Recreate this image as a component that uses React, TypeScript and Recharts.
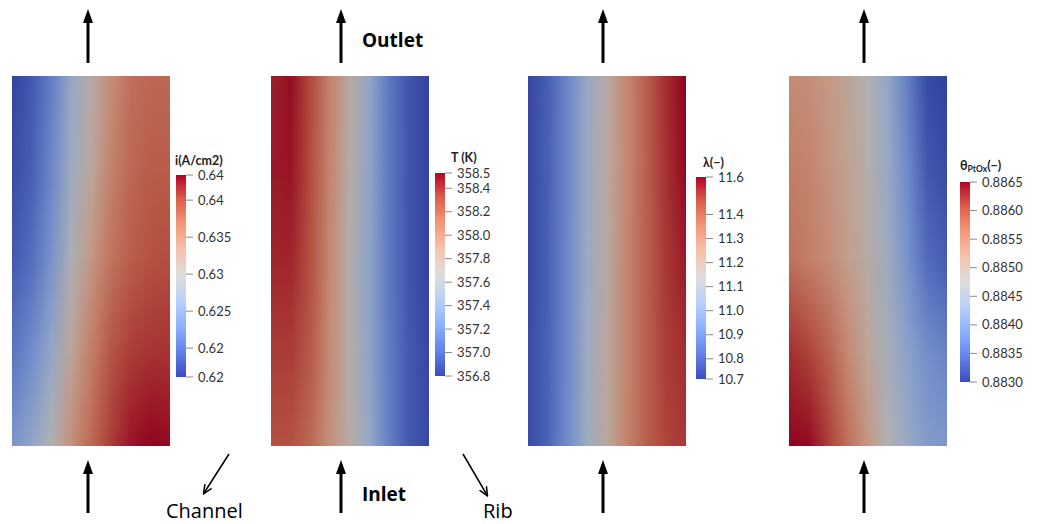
import React from 'react';
import { BarChart, Bar, XAxis, YAxis } from 'recharts';

// Cool-to-warm colour map, sampled every 1/8
const COOLWARM: number[][] = [
  [59, 76, 192], [98, 130, 234], [141, 176, 254], [184, 208, 249], [221, 221, 221],
  [245, 196, 173], [244, 154, 123], [222, 96, 77], [180, 4, 38],
];

// current density i (A/cm2): rows top -> bottom, columns left -> right
const CURRENT_DOMAIN = [0.6161, 0.6434];
const CURRENT_TICKS = [0.6434, 0.64, 0.635, 0.63, 0.625, 0.62, 0.6161];
const CURRENT_LABELS = ['0.64', '0.64', '0.635', '0.63', '0.625', '0.62', '0.62'];
const CURRENT_ROWS = [
  [0.6166, 0.6183, 0.6216, 0.6265, 0.6306, 0.6347, 0.6374, 0.6379, 0.6379],
  [0.6172, 0.6188, 0.6224, 0.6276, 0.6314, 0.6358, 0.6379, 0.6388, 0.6388],
  [0.6183, 0.6202, 0.6237, 0.6292, 0.6338, 0.6371, 0.6388, 0.6396, 0.6399],
  [0.6207, 0.6229, 0.6265, 0.6319, 0.6363, 0.6393, 0.6407, 0.6412, 0.6412],
  [0.6240, 0.6262, 0.6298, 0.6347, 0.6379, 0.6407, 0.6426, 0.6434, 0.6431],
];

// temperature T (K)
const TEMP_DOMAIN = [356.8, 358.53];
const TEMP_TICKS = [358.53, 358.4, 358.2, 358.0, 357.8, 357.6, 357.4, 357.2, 357.0, 356.8];
const TEMP_LABELS = ['358.5', '358.4', '358.2', '358.0', '357.8', '357.6', '357.4', '357.2', '357.0', '356.8'];
const TEMP_ROWS = [
  [358.44, 358.50, 358.32, 358.05, 357.75, 357.44, 357.11, 356.92, 356.83],
  [358.46, 358.48, 358.31, 358.03, 357.72, 357.42, 357.11, 356.92, 356.83],
  [358.43, 358.43, 358.29, 358.01, 357.68, 357.41, 357.11, 356.92, 356.83],
  [358.36, 358.36, 358.25, 357.99, 357.70, 357.42, 357.13, 356.94, 356.85],
  [358.29, 358.29, 358.18, 357.96, 357.72, 357.46, 357.15, 356.94, 356.85],
];

// membrane water content lambda (-)
const LAMBDA_DOMAIN = [10.716, 11.556];
const LAMBDA_TICKS = [11.556, 11.4, 11.3, 11.2, 11.1, 11.0, 10.9, 10.8, 10.716];
const LAMBDA_LABELS = ['11.6', '11.4', '11.3', '11.2', '11.1', '11.0', '10.9', '10.8', '10.7'];
const LAMBDA_ROWS = [
  [10.741, 10.800, 10.909, 11.052, 11.170, 11.304, 11.405, 11.497, 11.556],
  [10.741, 10.800, 10.909, 11.060, 11.178, 11.304, 11.405, 11.489, 11.548],
  [10.741, 10.800, 10.918, 11.060, 11.178, 11.312, 11.405, 11.480, 11.522],
  [10.750, 10.808, 10.918, 11.069, 11.186, 11.312, 11.405, 11.472, 11.497],
  [10.750, 10.808, 10.926, 11.069, 11.186, 11.321, 11.405, 11.464, 11.480],
];

// platinum oxide coverage theta_PtOx (-)
const THETA_DOMAIN = [0.883, 0.8865];
const THETA_TICKS = [0.8865, 0.886, 0.8855, 0.885, 0.8845, 0.884, 0.8835, 0.883];
const THETA_LABELS = ['0.8865', '0.8860', '0.8855', '0.8850', '0.8845', '0.8840', '0.8835', '0.8830'];
const THETA_ROWS = [
  [0.88542, 0.88538, 0.88524, 0.88503, 0.88475, 0.88433, 0.88370, 0.88314, 0.88304],
  [0.88559, 0.88552, 0.88531, 0.88510, 0.88482, 0.88440, 0.88384, 0.88328, 0.88314],
  [0.88573, 0.88559, 0.88542, 0.88517, 0.88489, 0.88447, 0.88398, 0.88349, 0.88332],
  [0.88626, 0.88612, 0.88587, 0.88545, 0.88500, 0.88461, 0.88423, 0.88391, 0.88377],
  [0.88650, 0.88647, 0.88615, 0.88573, 0.88528, 0.88475, 0.88440, 0.88412, 0.88405],
];

const PANEL_W = 158;
const PANEL_H = 370;
const PANEL_TOP = 76;
const SHADE = 0.8; // the 3D render is lit, so the fields look darker than the colour bars

function cmap(t: number, k = 1) {
  const c = Math.max(0, Math.min(1, t)) * (COOLWARM.length - 1);
  const i = Math.min(Math.floor(c), COOLWARM.length - 2);
  const f = c - i;
  const a = COOLWARM[i];
  const b = COOLWARM[i + 1];
  const ch = (j: number) => Math.round((a[j] + (b[j] - a[j]) * f) * k);
  return `rgb(${ch(0)},${ch(1)},${ch(2)})`;
}

function Field({ id, rows, domain, left }: { id: string; rows: number[][]; domain: number[]; left: number }) {
  const segs = rows.slice(1).map((_, i) => ({ seg: i, span: 1 }));
  const norm = (v: number) => (v - domain[0]) / (domain[1] - domain[0]);
  return (
    <div style={{ position: 'absolute', left, top: PANEL_TOP }}>
      <BarChart width={PANEL_W} height={PANEL_H} data={segs} layout="vertical" barCategoryGap={0}
        margin={{ top: 0, right: 0, bottom: 0, left: 0 }}>
        <defs>
          <linearGradient id={`${id}-fade`} x1="0" y1="0" x2="0" y2="1">
            <stop offset="0" stopColor="#000" />
            <stop offset="1" stopColor="#fff" />
          </linearGradient>
          <mask id={`${id}-mask`} maskContentUnits="objectBoundingBox">
            <rect x="0" y="0" width="1" height="1" fill={`url(#${id}-fade)`} />
          </mask>
          {rows.map((row, r) => (
            <linearGradient key={r} id={`${id}-row${r}`} x1="0" y1="0" x2="1" y2="0">
              {row.map((v, c) => (
                <stop key={c} offset={c / (row.length - 1)} stopColor={cmap(norm(v), SHADE)} />
              ))}
            </linearGradient>
          ))}
        </defs>
        <XAxis type="number" domain={[0, 1]} hide />
        <YAxis type="category" dataKey="seg" hide />
        <Bar dataKey="span" isAnimationActive={false}
          shape={(p: any) => (
            <g>
              <rect x={p.x} y={p.y} width={p.width} height={p.height + 0.6} fill={`url(#${id}-row${p.payload.seg})`} />
              <rect x={p.x} y={p.y} width={p.width} height={p.height + 0.6} fill={`url(#${id}-row${p.payload.seg + 1})`} mask={`url(#${id}-mask)`} />
            </g>
          )} />
      </BarChart>
    </div>
  );
}

function ColorBar({ id, domain, ticks, labels, left, top, height }: {
  id: string; domain: number[]; ticks: number[]; labels: string[]; left: number; top: number; height: number;
}) {
  const data = [{ k: 'bar', v: domain[1] }];
  return (
    <div style={{ position: 'absolute', left, top: top - 10 }}>
      <BarChart width={75} height={height + 20} data={data} barCategoryGap={0}
        margin={{ top: 10, right: 0, bottom: 10, left: 0 }}>
        <defs>
          <linearGradient id={id} x1="0" y1="0" x2="0" y2="1">
            {COOLWARM.map((c, i) => (
              <stop key={i} offset={i / (COOLWARM.length - 1)} stopColor={cmap(1 - i / (COOLWARM.length - 1))} />
            ))}
          </linearGradient>
        </defs>
        <XAxis dataKey="k" hide />
        <YAxis orientation="right" type="number" domain={domain} ticks={ticks} width={65} interval={0}
          allowDataOverflow axisLine={false} tickSize={7} tickMargin={5}
          tickLine={{ stroke: '#8a8a8a' }}
          tick={{ fill: '#333', fontSize: 13, fontFamily: 'Lato' }}
          tickFormatter={(v: number) => labels[ticks.indexOf(v)]} />
        <Bar dataKey="v" fill={`url(#${id})`} isAnimationActive={false} />
      </BarChart>
    </div>
  );
}

function UpArrow({ x, tip, end }: { x: number; tip: number; end: number }) {
  return (
    <g>
      <line x1={x} y1={tip + 10} x2={x} y2={end} stroke="#000" strokeWidth={3} />
      <polygon points={`${x},${tip} ${x - 5},${tip + 14} ${x + 5},${tip + 14}`} fill="#000" />
    </g>
  );
}

export default function App() {
  const arrowsX = [88, 341, 603, 864];
  const titleStyle = { fontFamily: 'Lato', fontWeight: 700, fontSize: 12.5, fill: '#222' } as const;
  const bigStyle = { fontFamily: 'Open Sans', fontSize: 20, fill: '#000' } as const;
  return (
    <div style={{ position: 'absolute', left: 0, top: 0, width: 1038, height: 524, background: '#fff' }}>
      <Field id="fi" rows={CURRENT_ROWS} domain={CURRENT_DOMAIN} left={12} />
      <Field id="ft" rows={TEMP_ROWS} domain={TEMP_DOMAIN} left={271} />
      <Field id="fl" rows={LAMBDA_ROWS} domain={LAMBDA_DOMAIN} left={528} />
      <Field id="fo" rows={THETA_ROWS} domain={THETA_DOMAIN} left={789} />

      <ColorBar id="ci" domain={CURRENT_DOMAIN} ticks={CURRENT_TICKS} labels={CURRENT_LABELS} left={176} top={175} height={202} />
      <ColorBar id="ct" domain={TEMP_DOMAIN} ticks={TEMP_TICKS} labels={TEMP_LABELS} left={435} top={173} height={203} />
      <ColorBar id="cl" domain={LAMBDA_DOMAIN} ticks={LAMBDA_TICKS} labels={LAMBDA_LABELS} left={696} top={177} height={202} />
      <ColorBar id="co" domain={THETA_DOMAIN} ticks={THETA_TICKS} labels={THETA_LABELS} left={960} top={182} height={200} />

      <svg width={1038} height={524} style={{ position: 'absolute', left: 0, top: 0, pointerEvents: 'none', overflow: 'visible' }}>
        <defs>
          <marker id="thin-head" markerWidth="10" markerHeight="10" refX="8" refY="5" orient="auto" markerUnits="userSpaceOnUse">
            <path d="M0,1 L9,5 L0,9" fill="none" stroke="#000" strokeWidth={1.5} />
          </marker>
        </defs>
        {arrowsX.map((x) => (
          <g key={x}>
            <UpArrow x={x} tip={9} end={63} />
            <UpArrow x={x} tip={460} end={513} />
          </g>
        ))}

        <text x={175} y={165} style={titleStyle}>i(A/cm2)</text>
        <text x={451} y={162} style={titleStyle}>T (K)</text>
        <text x={703} y={167} style={titleStyle}>λ(−)</text>
        <text x={960} y={170} style={titleStyle}>
          θ<tspan fontSize={8.5} dy={2}>PtOx</tspan><tspan dy={-2}>(−)</tspan>
        </text>

        <text x={362} y={47} style={{ ...bigStyle, fontWeight: 700, fontSize: 19 }}>Outlet</text>
        <text x={362} y={501} style={{ ...bigStyle, fontWeight: 700, fontSize: 19 }}>Inlet</text>
        <text x={166} y={518} style={bigStyle}>Channel</text>
        <text x={483} y={518} style={bigStyle}>Rib</text>

        <line x1={229} y1={454} x2={204} y2={493} stroke="#000" strokeWidth={1.5} markerEnd="url(#thin-head)" />
        <line x1={463} y1={454} x2={487} y2={495} stroke="#000" strokeWidth={1.5} markerEnd="url(#thin-head)" />
      </svg>
    </div>
  );
}
